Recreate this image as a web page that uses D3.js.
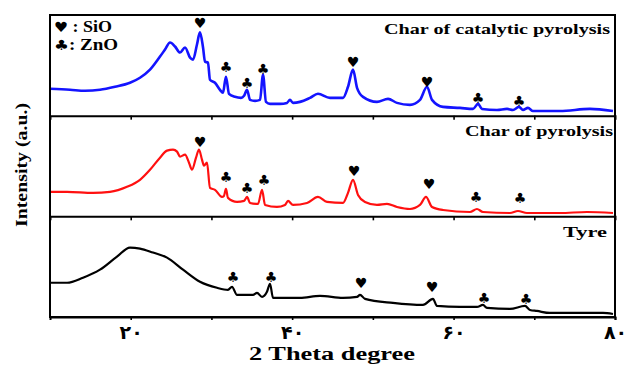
<!DOCTYPE html>
<html>
<head>
<meta charset="utf-8">
<script src="https://cdn.jsdelivr.net/npm/d3@7"></script>
<style>
  body { margin: 0; background: #fff; }
  text { font-family: "Liberation Serif", "DejaVu Serif", serif; font-weight: bold; fill: #000; }
</style>
</head>
<body>
<svg id="plot"></svg>
<script>
// 2 theta (degree) and intensity (a.u., per panel 0-100)
const catalyticTheta = [10.0, 12.48, 14.34, 16.19, 18.05, 19.91, 21.15, 22.39, 23.63, 24.25, 24.87, 25.49, 26.11, 26.73, 27.35, 27.72, 28.21, 28.58, 28.96, 29.2, 29.57, 29.82, 30.44, 31.06, 31.43, 31.8, 32.18, 32.92, 33.66, 34.04, 34.41, 34.78, 35.4, 36.02, 36.39, 36.76, 37.26, 38.5, 39.36, 39.73, 40.11, 40.97, 42.21, 43.2, 44.69, 46.3, 46.92, 47.54, 48.04, 48.78, 50.51, 51.88, 52.99, 54.6, 55.84, 56.71, 57.33, 58.69, 60.8, 62.41, 63.03, 63.52, 65.38, 66.62, 67.36, 68.1, 68.6, 69.22, 69.84, 73.18, 76.9, 79.75];
const catalyticI = [26.7, 25.7, 24.7, 25.7, 28.7, 32.7, 37.7, 45.7, 58.7, 65.7, 72.7, 68.7, 62.7, 67.7, 57.7, 55.7, 70.7, 82.7, 67.7, 53.7, 52.7, 35.7, 32.7, 25.7, 22.7, 38.7, 21.7, 18.7, 17.7, 19.7, 25.7, 15.7, 14.7, 15.7, 40.7, 13.7, 11.7, 11.7, 12.7, 15.7, 12.7, 13.7, 17.7, 21.7, 17.7, 17.7, 28.7, 45.7, 27.7, 18.7, 13.7, 16.7, 12.7, 10.7, 15.7, 28.7, 15.7, 8.7, 7.7, 6.7, 11.7, 6.7, 5.7, 6.7, 5.7, 8.7, 5.7, 7.7, 4.7, 4.7, 6.7, 4.7];

const pyrolysisTheta = [10.0, 12.11, 15.33, 17.43, 19.54, 21.15, 22.39, 23.63, 24.5, 25.24, 25.74, 26.11, 26.73, 27.22, 27.59, 28.09, 28.46, 28.83, 29.08, 29.45, 29.82, 30.44, 31.31, 31.55, 31.8, 32.05, 33.17, 34.04, 34.41, 34.78, 35.77, 36.27, 36.64, 38.12, 39.11, 39.49, 40.11, 41.84, 43.2, 44.32, 46.3, 46.92, 47.54, 48.16, 49.03, 50.51, 51.75, 52.99, 54.6, 55.84, 56.58, 57.33, 58.69, 62.03, 62.9, 63.64, 66.99, 67.98, 69.09, 73.18, 76.53, 79.75];
const pyrolysisI = [24.3, 24.3, 23.3, 24.3, 29.3, 36.3, 46.3, 58.3, 65.3, 66.3, 64.3, 59.3, 61.3, 53.3, 46.3, 58.3, 66.3, 56.3, 50.3, 53.3, 28.3, 26.3, 19.3, 20.3, 27.3, 18.3, 14.3, 15.3, 19.3, 13.3, 12.3, 26.3, 11.3, 9.3, 11.3, 15.3, 11.3, 13.3, 19.3, 14.3, 13.3, 23.3, 36.3, 21.3, 14.3, 11.3, 12.3, 9.3, 7.3, 11.3, 19.3, 9.3, 6.3, 4.3, 7.3, 4.3, 3.3, 5.3, 3.3, 3.3, 4.3, 3.3];

const tyreTheta = [10.0, 12.11, 14.09, 16.19, 18.3, 19.91, 21.15, 22.76, 24.5, 26.48, 28.58, 30.69, 32.05, 32.55, 33.17, 35.15, 35.65, 36.27, 36.88, 37.26, 37.63, 40.97, 43.45, 46.3, 48.04, 48.41, 49.03, 52.49, 56.21, 57.45, 57.94, 60.8, 62.9, 63.64, 64.14, 66.99, 68.85, 69.47, 70.33, 71.94, 75.29, 78.51, 79.75];
const tyreI = [34, 34, 39, 47, 60, 69, 68, 64, 59, 47, 35, 29, 27, 30, 22, 22, 24, 20, 25, 33, 19, 19, 21, 19, 20, 22, 18, 14, 12, 18, 11, 10, 10, 12, 9, 8, 11, 7, 6, 4, 4, 4, 3];

// peak markers: 2 theta, height, phase
const catalyticMarkTheta = [28.58, 31.8, 34.41, 36.39, 47.54, 56.71, 63.03, 68.1];
const catalyticMarkI = [91.7, 48.7, 32.7, 46.7, 53.7, 33.7, 17.7, 14.7];
const catalyticMarkPhase = ["SiO", "ZnO", "ZnO", "ZnO", "SiO", "SiO", "ZnO", "ZnO"];
const pyrolysisMarkTheta = [28.58, 31.8, 34.41, 36.52, 47.66, 56.96, 62.78, 68.23];
const pyrolysisMarkI = [74.3, 39.3, 28.3, 36.3, 45.3, 32.3, 19.3, 18.3];
const pyrolysisMarkPhase = ["SiO", "ZnO", "ZnO", "ZnO", "SiO", "SiO", "ZnO", "ZnO"];
const tyreMarkTheta = [32.68, 37.39, 48.53, 57.33, 63.77, 68.97];
const tyreMarkI = [40, 40, 34, 30, 19, 18];
const tyreMarkPhase = ["ZnO", "ZnO", "SiO", "SiO", "ZnO", "ZnO"];

const panelNames = ["Char of catalytic pyrolysis", "Char of pyrolysis", "Tyre"];
const panelColors = ["#1414ff", "#ff1010", "#000000"];
const phaseNames = ["SiO", "ZnO"];
const phaseSymbols = ["\u2665", "\u2663"];
const xTickValues = [20, 30, 40, 50, 60, 70, 80];
const xTickLabels = { 20: "\u06F2\u06F0", 40: "\u06F4\u06F0", 60: "\u06F6\u06F0", 80: "\u06F8\u06F0" };

const series = [
  { theta: catalyticTheta, I: catalyticI, mTheta: catalyticMarkTheta, mI: catalyticMarkI, mPhase: catalyticMarkPhase },
  { theta: pyrolysisTheta, I: pyrolysisI, mTheta: pyrolysisMarkTheta, mI: pyrolysisMarkI, mPhase: pyrolysisMarkPhase },
  { theta: tyreTheta, I: tyreI, mTheta: tyreMarkTheta, mI: tyreMarkI, mPhase: tyreMarkPhase }
];

const W = 630, H = 365;
const margin = { top: 15, left: 50, right: 15, bottom: 48 };

const svg = d3.select("#plot").attr("width", W).attr("height", H);

const x = d3.scaleLinear().domain([10, 80]).range([margin.left, W - margin.right]);
const band = d3.scaleBand().domain(panelNames).range([margin.top, H - margin.bottom]).paddingInner(0);
const symbol = d3.scaleOrdinal().domain(phaseNames).range(phaseSymbols);

series.forEach((s, i) => {
  const name = panelNames[i];
  const y = d3.scaleLinear().domain([0, 100]).range([band(name) + band.bandwidth(), band(name)]);
  const pts = s.theta.map((t, j) => [t, s.I[j]]);

  const line = d3.line()
    .x((d) => x(d[0]))
    .y((d) => y(d[1]))
    .curve(d3.curveMonotoneX);

  svg.append("path")
    .datum(pts)
    .attr("d", line)
    .attr("fill", "none")
    .attr("stroke", panelColors[i])
    .attr("stroke-width", i === 0 ? 2.6 : 2.2)
    .attr("stroke-linejoin", "round");

  svg.append("g")
    .selectAll("text")
    .data(s.mTheta.map((t, j) => ({ t, v: s.mI[j], p: s.mPhase[j] })))
    .join("text")
    .attr("x", (d) => x(d.t))
    .attr("y", (d) => y(d.v))
    .attr("text-anchor", "middle")
    .attr("dominant-baseline", "central")
    .style("font-family", "DejaVu Sans")
    .style("font-size", "14px")
    .text((d) => symbol(d.p));

  // panel title, right aligned
  const titleLen = [226, 148, 44][i];
  svg.append("text")
    .attr("x", [610, 613, 607][i])
    .attr("y", band(name) + [19, 20, 21][i])
    .attr("text-anchor", "end")
    .attr("textLength", titleLen)
    .attr("lengthAdjust", "spacingAndGlyphs")
    .style("font-size", "15px")
    .text(name);

  // inner ticks along the top of lower panels
  if (i > 0) {
    svg.append("g")
      .attr("transform", `translate(0,${band(name)})`)
      .call(d3.axisBottom(x).tickValues(xTickValues.slice(0, -1)).tickSize(4).tickFormat(""))
      .call((g) => g.select(".domain").attr("stroke-width", 2))
      .call((g) => g.selectAll(".tick line").attr("stroke-width", 1.6));
  }
});

// bottom axis
const xAxis = svg.append("g")
  .attr("transform", `translate(0,${H - margin.bottom})`)
  .call(d3.axisBottom(x).tickValues(xTickValues).tickSize(3).tickPadding(6)
    .tickFormat((d) => xTickLabels[d] || ""));
xAxis.select(".domain").attr("stroke-width", 2);
xAxis.selectAll(".tick line").attr("stroke-width", 1.6);
xAxis.selectAll(".tick text")
  .style("font-family", "DejaVu Sans")
  .style("font-weight", "bold")
  .style("font-size", "19px")
  .attr("fill", "#000");

// frame
svg.append("rect")
  .attr("x", margin.left)
  .attr("y", margin.top)
  .attr("width", W - margin.left - margin.right)
  .attr("height", H - margin.top - margin.bottom)
  .attr("fill", "none")
  .attr("stroke", "#000")
  .attr("stroke-width", 2);

// legend
const legendLen = [58, 64];
phaseNames.forEach((p, i) => {
  const t = svg.append("text")
    .attr("x", 54)
    .attr("y", 32 + i * 18)
    .attr("textLength", legendLen[i])
    .attr("lengthAdjust", "spacingAndGlyphs")
    .style("font-size", "16px");
  t.append("tspan").style("font-family", "DejaVu Sans").style("font-size", "14px").text(phaseSymbols[i]);
  t.append("tspan").text((i === 0 ? " : " : ": ") + p);
});

// axis titles
svg.append("text")
  .attr("x", 332)
  .attr("y", 360)
  .attr("text-anchor", "middle")
  .attr("textLength", 166)
  .attr("lengthAdjust", "spacingAndGlyphs")
  .style("font-size", "18px")
  .text("2 Theta degree");

svg.append("text")
  .attr("transform", "translate(27,165) rotate(-90)")
  .attr("text-anchor", "middle")
  .attr("textLength", 124)
  .attr("lengthAdjust", "spacingAndGlyphs")
  .style("font-size", "16px")
  .text("Intensity (a.u.)");
</script>
</body>
</html>
